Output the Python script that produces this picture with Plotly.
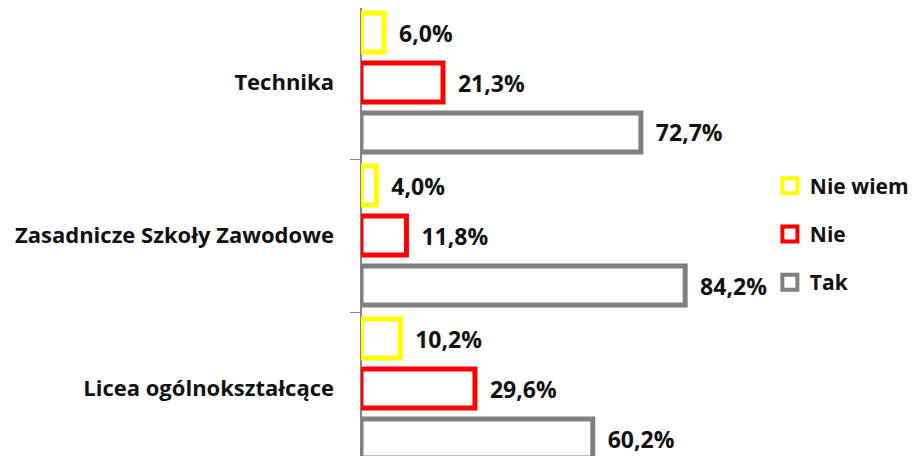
import plotly.graph_objects as go

# szkoły (od dołu do góry wykresu)
schools = ["Licea ogólnokształcące", "Zasadnicze Szkoły Zawodowe", "Technika"]

tak = [60.2, 84.2, 72.7]
nie = [29.6, 11.8, 21.3]
nie_wiem = [10.2, 4.0, 6.0]

series = [
    ("Tak", tak, "#808080", 3),
    ("Nie", nie, "#FF0000", 2),
    ("Nie wiem", nie_wiem, "#FFFF00", 1),
]

FONT = "Open Sans"

fig = go.Figure()
for name, vals, col, rank in series:
    fig.add_trace(go.Bar(
        y=schools, x=vals, name=name, orientation="h",
        marker=dict(color="white", line=dict(color=col, width=5)),
        text=["  " + f"{v:.1f}".replace(".", ",") + "%" for v in vals],
        textposition="outside", cliponaxis=False,
        textfont=dict(family=FONT, size=23, color="#111111", weight="bold"),
        showlegend=False,
    ))
    # legenda: kwadrat z kolorową ramką
    fig.add_trace(go.Scatter(
        x=[None], y=[None], mode="markers", name=name,
        marker=dict(symbol="square", size=15, color="white",
                    line=dict(color=col, width=4)),
        legendgroup=name, legendrank=rank,
    ))

fig.update_layout(
    width=909, height=448,
    margin=dict(l=353, r=170.5, t=0, b=0, autoexpand=False),
    paper_bgcolor="white", plot_bgcolor="white",
    barmode="group", bargap=0.02, bargroupgap=0.22,
    font=dict(family=FONT, size=22, color="#111111"),
    legend=dict(x=1.062, xanchor="left", y=0.4955, yanchor="middle",
                traceorder="grouped", tracegroupgap=18,
                itemwidth=30, itemsizing="trace", borderwidth=0,
                font=dict(family=FONT, size=21, weight="bold")),
    showlegend=True,
)
fig.update_xaxes(range=[0, 100], showticklabels=False, showgrid=False,
                 zeroline=True, zerolinecolor="#868686", zerolinewidth=1.5)
fig.update_yaxes(type="category", categoryarray=schools, range=[-0.441, 2.487],
                 showline=False,
                 ticks="outside", tickson="boundaries", ticklen=10,
                 tickcolor="#868686", ticklabelstandoff=26,
                 tickfont=dict(family=FONT, size=22, weight="bold"),
                 showgrid=False, zeroline=False)

fig.write_html("out.html")
